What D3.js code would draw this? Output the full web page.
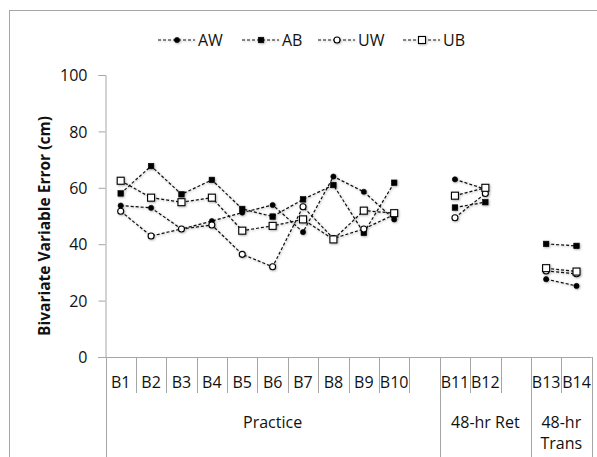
<!DOCTYPE html>
<html>
<head>
<meta charset="utf-8">
<script src="https://d3js.org/d3.v7.min.js"></script>
<style>
  body { margin: 0; background: white; }
  text { font-family: "Open Sans", sans-serif; fill: #111; }
</style>
</head>
<body>
<script>
  // blocks and the sessions they belong to
  const blocks = ["B1", "B2", "B3", "B4", "B5", "B6", "B7", "B8", "B9", "B10", "B11", "B12", "B13", "B14"];
  const sessionOf = ["P", "P", "P", "P", "P", "P", "P", "P", "P", "P", "R", "R", "T", "T"];
  // slots on the x axis, with empty slots between sessions
  const slots = ["B1", "B2", "B3", "B4", "B5", "B6", "B7", "B8", "B9", "B10", "gap1", "B11", "B12", "gap2", "B13", "B14"];
  const sessions = [
    { key: "P", label: ["Practice"], from: "B1", to: "gap1" },
    { key: "R", label: ["48-hr Ret"], from: "B11", to: "gap2" },
    { key: "T", label: ["48-hr", "Trans"], from: "B13", to: "B14" }
  ];

  const AW = [53.7, 52.9, 45.4, 48.2, 51.2, 53.9, 44.3, 64.0, 58.6, 48.8, 63.0, 59.5, 27.6, 25.2];
  const AB = [58.0, 67.7, 57.7, 62.8, 52.5, 49.8, 55.9, 61.0, 44.0, 61.8, 53.0, 54.9, 40.1, 39.4];
  const UW = [51.7, 42.9, 45.4, 46.8, 36.4, 32.0, 53.3, 42.0, 45.4, 50.5, 49.4, 58.0, 30.5, 29.5];
  const UB = [62.5, 56.5, 54.9, 56.5, 44.8, 46.5, 48.8, 41.7, 51.9, 51.0, 57.2, 60.0, 31.5, 30.3];

  const yTicks = [0, 20, 40, 60, 80, 100];

  const series = [
    { name: "AW", values: AW, shape: "circle", filled: true },
    { name: "AB", values: AB, shape: "square", filled: true },
    { name: "UW", values: UW, shape: "circle", filled: false },
    { name: "UB", values: UB, shape: "square", filled: false }
  ];

  const width = 597, height = 457;
  const axisColor = "#a6a6a6";

  const svg = d3.select("body").append("svg")
    .attr("width", width)
    .attr("height", height);

  const defs = svg.append("defs");
  const f = defs.append("filter").attr("id", "shadow")
    .attr("x", "-50%").attr("y", "-50%").attr("width", "200%").attr("height", "200%");
  f.append("feDropShadow").attr("dx", 0.8).attr("dy", 0.8)
    .attr("stdDeviation", 1).attr("flood-color", "#000").attr("flood-opacity", 0.35);

  // outer frame (chart is cropped on the right and bottom)
  svg.append("line").attr("x1", 9).attr("x2", width).attr("y1", 10.5).attr("y2", 10.5)
    .attr("stroke", axisColor);
  svg.append("line").attr("x1", 9.5).attr("x2", 9.5).attr("y1", 10).attr("y2", height)
    .attr("stroke", axisColor);

  const x = d3.scaleBand().domain(slots).range([105.5, 591.7]);
  const y = d3.scaleLinear().domain([0, 100]).range([357, 75]);

  // y axis
  const yAxis = svg.append("g").attr("transform", "translate(105.5,0)")
    .call(d3.axisLeft(y).tickValues(yTicks).tickSize(7).tickPadding(11));
  yAxis.select(".domain").attr("stroke", axisColor);
  yAxis.selectAll(".tick line").attr("stroke", axisColor);
  yAxis.selectAll(".tick text")
    .attr("font-size", 16).attr("font-family", "Open Sans").attr("fill", "#111")
    .attr("dy", "0.36em");

  svg.append("text")
    .attr("transform", "translate(50,226) rotate(-90)")
    .attr("text-anchor", "middle")
    .attr("font-size", 15.5)
    .attr("font-weight", 700)
    .text("Bivariate Variable Error (cm)");

  // x axis: baseline, slot dividers, labels
  const axisY = 357;
  svg.append("line").attr("x1", 98).attr("x2", 591.7).attr("y1", axisY + 0.5).attr("y2", axisY + 0.5)
    .attr("stroke", axisColor);

  const groupEdges = [x("B1"), x("B11"), x("B13"), x("B14") + x.bandwidth()];
  const allEdges = slots.map(s => x(s)).concat([x("B14") + x.bandwidth()]);
  svg.append("g").selectAll("line").data(allEdges).join("line")
    .attr("x1", d => Math.round(d) + 0.5).attr("x2", d => Math.round(d) + 0.5)
    .attr("y1", axisY)
    .attr("y2", d => groupEdges.some(g => Math.abs(g - d) < 0.1) ? height : 393)
    .attr("stroke", axisColor);

  svg.append("g").selectAll("text").data(blocks).join("text")
    .attr("x", d => x(d) + x.bandwidth() / 2)
    .attr("y", 388)
    .attr("text-anchor", "middle")
    .attr("font-size", 16)
    .text(d => d);

  sessions.forEach(s => {
    const cx = (x(s.from) + x(s.to) + x.bandwidth()) / 2;
    s.label.forEach((t, i) => {
      svg.append("text")
        .attr("x", cx)
        .attr("y", 428 + i * 21)
        .attr("text-anchor", "middle")
        .attr("font-size", 16)
        .text(t);
    });
  });

  // lines and markers
  const cxOf = i => x(blocks[i]) + x.bandwidth() / 2;
  const line = d3.line().x(d => cxOf(d.i)).y(d => y(d.v));

  function drawMarker(g, shape, filled, px, py) {
    if (shape === "circle") {
      g.append("circle").attr("cx", px).attr("cy", py)
        .attr("r", filled ? 2.6 : 3)
        .attr("fill", filled ? "#000" : "#fff")
        .attr("stroke", "#000").attr("stroke-width", filled ? 0.6 : 1.1);
    } else {
      const s = filled ? 5.5 : 7;
      g.append("rect").attr("x", px - s / 2).attr("y", py - s / 2)
        .attr("width", s).attr("height", s)
        .attr("fill", filled ? "#000" : "#fff")
        .attr("stroke", "#000").attr("stroke-width", filled ? 0.6 : 1.1);
    }
  }

  const plot = svg.append("g").attr("filter", "url(#shadow)");

  series.forEach(se => {
    const pts = se.values.map((v, i) => ({ v, i, s: sessionOf[i] }));
    sessions.forEach(s => {
      const seg = pts.filter(p => p.s === s.key);
      plot.append("path")
        .attr("d", line(seg))
        .attr("fill", "none")
        .attr("stroke", "#111")
        .attr("stroke-width", 1.2)
        .attr("stroke-dasharray", "3,2");
    });
  });

  series.forEach(se => {
    se.values.forEach((v, i) => drawMarker(plot, se.shape, se.filled, cxOf(i), y(v)));
  });

  // legend
  const legendX = [158, 242, 318, 403];
  const legend = svg.append("g");
  series.forEach((se, k) => {
    const lx = legendX[k], ly = 40;
    const lg = legend.append("g").attr("filter", "url(#shadow)");
    lg.append("line").attr("x1", lx).attr("x2", lx + 37).attr("y1", ly).attr("y2", ly)
      .attr("stroke", "#111").attr("stroke-width", 1.2).attr("stroke-dasharray", "3,2");
    drawMarker(lg, se.shape, se.filled, lx + 19, ly);
    legend.append("text")
      .attr("x", lx + 40)
      .attr("y", ly)
      .attr("dy", "0.36em")
      .attr("font-size", 16)
      .text(se.name);
  });
</script>
</body>
</html>
